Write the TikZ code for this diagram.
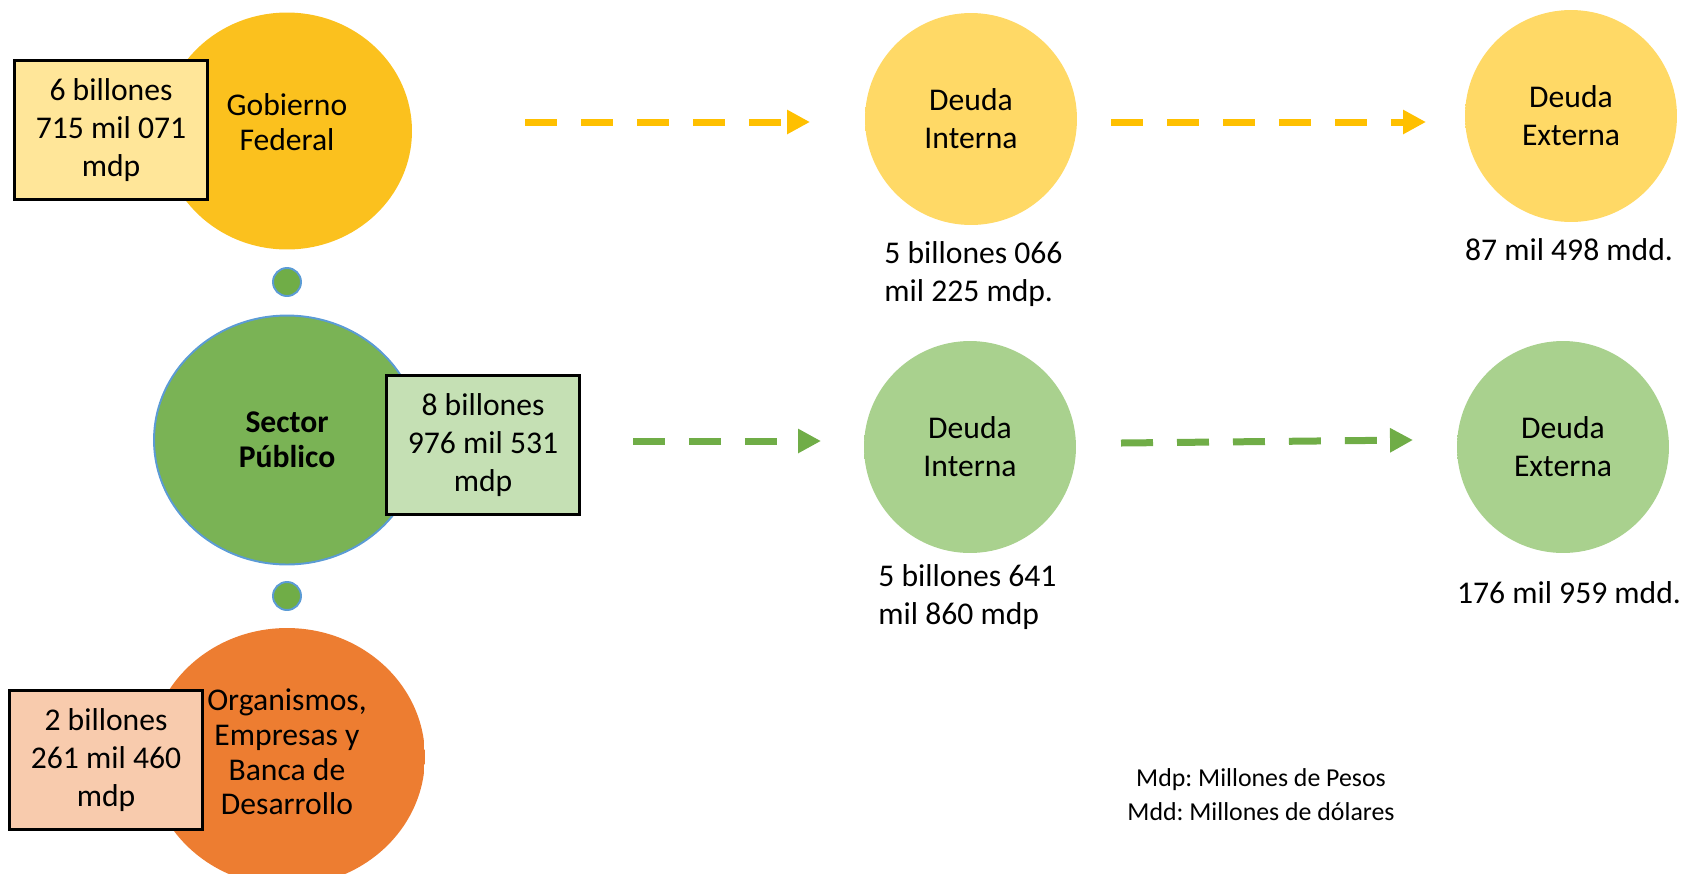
\documentclass[tikz,border=0pt]{standalone}
\usepackage{fontspec}
\setmainfont{Carlito}
\frenchspacing
\usetikzlibrary{arrows.meta, positioning, shapes.geometric}

\definecolor{colorGob}{HTML}{FFC000}
\definecolor{colorGobIn}{HTML}{FBC11E}
\definecolor{colorGobHi}{HTML}{FFE84A}
\definecolor{colorGobBox}{HTML}{FFE699}
\definecolor{colorSec}{HTML}{70AD47}
\definecolor{colorSecIn}{HTML}{7AB355}
\definecolor{colorSecHi}{HTML}{A2D683}
\definecolor{colorSecBox}{HTML}{C5E0B4}
\definecolor{colorRim}{HTML}{5B9BD5}
\definecolor{colorOrg}{HTML}{ED7D31}
\definecolor{colorOrgHi}{HTML}{F6A86F}
\definecolor{colorOrgBox}{HTML}{F8CBAD}
\definecolor{colorDY}{HTML}{FFD966}
\definecolor{colorDYHi}{HTML}{FFF3A8}
\definecolor{colorDG}{HTML}{A9D18E}
\definecolor{colorDGHi}{HTML}{D9F7C4}

\pgfdeclareradialshading{shadeGob}{\pgfpoint{0bp}{0bp}}{color(0bp)=(colorGobIn); color(38bp)=(colorGobIn); color(41.5bp)=(colorGobHi); color(45bp)=(colorGob); color(50bp)=(colorGob)}
\pgfdeclareradialshading{shadeSec}{\pgfpoint{0bp}{0bp}}{color(0bp)=(colorSecIn); color(37.5bp)=(colorSecIn); color(41bp)=(colorSecHi); color(44.5bp)=(colorSec); color(50bp)=(colorSec)}
\pgfdeclareradialshading{shadeOrg}{\pgfpoint{0bp}{0bp}}{color(0bp)=(colorOrg); color(42bp)=(colorOrg); color(45bp)=(colorOrgHi); color(48bp)=(colorOrg); color(50bp)=(colorOrg)}
\pgfdeclareradialshading{shadeDY}{\pgfpoint{0bp}{0bp}}{color(0bp)=(colorDY); color(41bp)=(colorDY); color(47bp)=(colorDYHi); color(50bp)=(colorDY)}
\pgfdeclareradialshading{shadeDG}{\pgfpoint{0bp}{0bp}}{color(0bp)=(colorDG); color(41bp)=(colorDG); color(47bp)=(colorDGHi); color(50bp)=(colorDG)}

\tikzset{
  sector/.style={ellipse, inner sep=0pt, align=center, font=\fontsize{18}{19.8}\selectfont},
  sectortxt/.style={inner sep=0pt, align=center, font=\fontsize{18}{19.8}\selectfont},
  valbox/.style={draw=black, line width=1.2pt, inner sep=0pt, minimum width=3.86cm, minimum height=2.78cm, align=center, font=\fontsize{18}{21.5}\selectfont},
  deuda/.style={circle, inner sep=0pt, minimum size=4.24cm, align=center, font=\fontsize{18}{21.5}\selectfont},
  monto/.style={inner sep=0pt, align=left, font=\fontsize{18}{21.5}\selectfont},
  punto/.style={circle, inner sep=0pt, minimum size=0.56cm, fill=colorSec, draw=colorRim, line width=1.1pt},
  flecha/.style={-{Triangle[length=0.46cm,width=0.46cm]}, line width=0.14cm, dash pattern=on 0.64cm off 0.48cm}
}

\begin{document}
\begin{tikzpicture}[x=0.02cm, y=-0.02cm]
\clip (0,0) rectangle (1687,873);
% sectores
\node[sector, minimum width=5.0cm, minimum height=4.74cm, shading=shadeGob] (gf) at (287,131) {};
\node[sectortxt] (gftxt) at (287,122) {Gobierno\\Federal};
\node[valbox, fill=colorGobBox] (gfval) at (111,130) {6 billones\\715 mil 071\\mdp};
\node[punto] (p1) at (287,282) {};
\node[sector, minimum width=5.32cm, minimum height=4.98cm, shading=shadeSec, draw=colorRim, line width=1.1pt, font=\fontsize{18}{19.8}\selectfont\bfseries] (sp) at (287,440) {Sector\\Público};
\node[valbox, fill=colorSecBox] (spval) at (483,445) {8 billones\\976 mil 531\\mdp};
\node[punto] (p2) at (287,596) {};
\node[sector, minimum width=5.52cm, minimum height=5.16cm, shading=shadeOrg] (oe) at (287,757) {};
\node[sectortxt] (oetxt) at (287,752) {Organismos,\\Empresas y\\Banca de\\Desarrollo};
\node[valbox, fill=colorOrgBox] (oeval) at (106,760) {2 billones\\261 mil 460\\mdp};
% deuda
\node[deuda, shading=shadeDY] (diy) at (971,119) {Deuda\\Interna};
\node[deuda, shading=shadeDY] (dey) at (1571,116) {Deuda\\Externa};
\node[deuda, shading=shadeDG] (dig) at (970,447) {Deuda\\Interna};
\node[deuda, shading=shadeDG] (deg) at (1563,447) {Deuda\\Externa};
\node[monto, anchor=west] (diyval) at (884,274) {5 billones 066\\mil 225 mdp.};
\node[monto] (deyval) at (1569,250) {87 mil 498 mdd.};
\node[monto, anchor=west] (digval) at (878,597) {5 billones 641\\mil 860 mdp};
\node[monto] (degval) at (1569,593) {176 mil 959 mdd.};
\node[align=center, font=\fontsize{14.7}{19.3}\selectfont] (nota) at (1261,795) {Mdp: Millones de Pesos\\Mdd: Millones de dólares};
% flechas
\coordinate (a1s) at (525,122);
\coordinate (a1e) at (810,122);
\coordinate (a2s) at (1111,122);
\coordinate (a2e) at (1426,122);
\coordinate (a3s) at (633,441);
\coordinate (a3e) at (821,441);
\coordinate (a4s) at (1121,443);
\coordinate (a4e) at (1413,440);
\draw[flecha, colorGob] (a1s) -- (a1e);
\draw[flecha, colorGob] (a2s) -- (a2e);
\draw[flecha, colorSec] (a3s) -- (a3e);
\draw[flecha, colorSec] (a4s) -- (a4e);
\end{tikzpicture}
\end{document}
